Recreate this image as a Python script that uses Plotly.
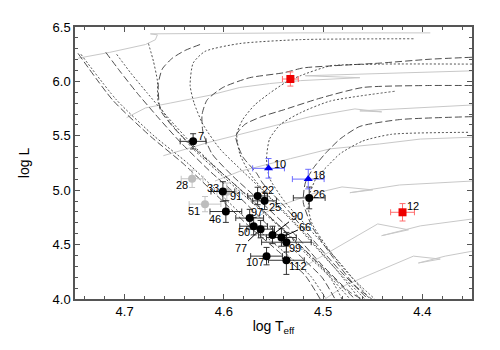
import plotly.graph_objects as go

# ---------------- data ----------------
# Evolutionary tracks (log Teff, log L)
# long-dashed tracks
dash_a_T = [4.747, 4.712, 4.674, 4.641, 4.607, 4.574, 4.543, 4.518, 4.503]
dash_a_L = [6.258, 5.828, 5.496, 5.245, 4.950, 4.663, 4.421, 4.215, 4.000]
dash_c_T = [4.719, 4.705, 4.688, 4.667, 4.644, 4.614, 4.584, 4.554, 4.523, 4.501, 4.488]
dash_c_L = [6.267, 6.097, 5.900, 5.676, 5.443, 5.174, 4.932, 4.663, 4.394, 4.197, 4.000]
dash_f_T = [4.624, 4.639, 4.652, 4.662, 4.666, 4.664, 4.649, 4.626, 4.594, 4.561, 4.527, 4.497, 4.468]
dash_f_L = [6.339, 6.285, 6.213, 6.115, 5.980, 5.738, 5.559, 5.353, 5.093, 4.815, 4.528, 4.260, 4.000]
dash_h_T = [4.350, 4.392, 4.443, 4.493, 4.520, 4.540, 4.574, 4.601, 4.617, 4.622, 4.621, 4.612, 4.592, 4.562, 4.531, 4.503, 4.473, 4.461]
dash_h_L = [6.222, 6.204, 6.168, 6.142, 6.124, 6.079, 6.034, 5.944, 5.828, 5.694, 5.532, 5.335, 5.138, 4.887, 4.618, 4.331, 4.063, 4.000]
dash_j_T = [4.350, 4.395, 4.460, 4.503, 4.540, 4.562, 4.579, 4.588, 4.581, 4.567, 4.561, 4.538, 4.513, 4.483, 4.455]
dash_j_L = [5.962, 5.962, 5.944, 5.846, 5.738, 5.676, 5.604, 5.496, 5.308, 5.156, 5.066, 4.842, 4.573, 4.260, 4.000]
dash_l_T = [4.350, 4.423, 4.463, 4.483, 4.498, 4.510, 4.518, 4.520, 4.511, 4.491, 4.468, 4.451]
dash_l_L = [5.676, 5.649, 5.586, 5.470, 5.335, 5.201, 5.066, 4.887, 4.663, 4.394, 4.125, 4.000]

# dotted tracks
dot_b_T = [4.744, 4.708, 4.670, 4.636, 4.602, 4.569, 4.538, 4.513, 4.497]
dot_b_L = [6.249, 5.828, 5.496, 5.245, 4.950, 4.663, 4.421, 4.215, 4.000]
dot_d_T = [4.708, 4.694, 4.677, 4.657, 4.634, 4.604, 4.574, 4.543, 4.515, 4.493, 4.481]
dot_d_L = [6.249, 6.079, 5.891, 5.676, 5.443, 5.174, 4.932, 4.663, 4.394, 4.197, 4.000]
dot_e_T = [4.676, 4.671, 4.667, 4.666, 4.654, 4.631, 4.599, 4.566, 4.533, 4.503, 4.473]
dot_e_L = [6.348, 6.186, 6.007, 5.801, 5.622, 5.380, 5.111, 4.842, 4.573, 4.304, 4.000]
dot_g_T = [4.409, 4.523, 4.584, 4.619, 4.631, 4.634, 4.630, 4.621, 4.604, 4.579, 4.548, 4.518, 4.490, 4.463]
dot_g_L = [6.392, 6.384, 6.348, 6.276, 6.168, 5.962, 5.801, 5.604, 5.380, 5.156, 4.887, 4.600, 4.304, 4.000]
dot_i_T = [4.350, 4.443, 4.493, 4.523, 4.538, 4.554, 4.569, 4.581, 4.587, 4.584, 4.574, 4.554, 4.523, 4.493, 4.458]
dot_i_L = [6.159, 6.159, 6.142, 6.052, 5.989, 5.891, 5.783, 5.649, 5.514, 5.335, 5.156, 4.932, 4.636, 4.331, 4.000]
dot_k_T = [4.428, 4.493, 4.523, 4.543, 4.554, 4.557, 4.554, 4.538, 4.513, 4.483, 4.453]
dot_k_L = [5.909, 5.819, 5.711, 5.604, 5.470, 5.290, 5.111, 4.887, 4.636, 4.331, 4.000]
dot_m_T = [4.354, 4.431, 4.460, 4.483, 4.495, 4.507, 4.513, 4.515, 4.511, 4.493, 4.473, 4.448]
dot_m_L = [5.532, 5.514, 5.452, 5.335, 5.227, 5.111, 4.977, 4.842, 4.690, 4.439, 4.215, 4.000]

# light grey solid tracks
grey_1_T = [4.747, 4.715, 4.679, 4.669, 4.667, 4.674, 4.523, 4.392]
grey_1_L = [6.213, 6.267, 6.339, 6.383, 6.428, 6.437, 6.446, 6.446]
grey_2_T = [4.698, 4.679, 4.654, 4.614, 4.584, 4.554, 4.523, 4.463, 4.518, 4.423, 4.350]
grey_2_L = [5.667, 5.756, 5.801, 5.873, 5.944, 5.980, 6.007, 6.034, 6.052, 6.079, 6.097]
grey_3_T = [4.661, 4.614, 4.564, 4.513, 4.468, 4.441, 4.463, 4.350]
grey_3_L = [5.317, 5.443, 5.559, 5.676, 5.747, 5.720, 5.729, 5.783]
grey_4_T = [4.609, 4.584, 4.533, 4.493, 4.443, 4.402, 4.350]
grey_4_L = [5.084, 5.174, 5.290, 5.380, 5.425, 5.470, 5.487]
grey_5_T = [4.574, 4.543, 4.510, 4.481, 4.450, 4.473, 4.423, 4.350]
grey_5_L = [4.726, 4.860, 4.968, 5.030, 5.003, 4.977, 5.048, 5.084]
grey_6_T = [4.523, 4.493, 4.463, 4.445, 4.414, 4.441, 4.402, 4.350]
grey_6_L = [4.278, 4.439, 4.600, 4.690, 4.636, 4.582, 4.672, 4.735]
grey_7_T = [4.498, 4.478, 4.460, 4.433, 4.409, 4.382, 4.404, 4.377, 4.350]
grey_7_L = [4.000, 4.125, 4.197, 4.304, 4.394, 4.367, 4.331, 4.394, 4.439]

# stars
black_names = ["7", "33", "46", "22", "25", "26", "97", "50", "77", "90", "66", "99", "107", "112"]
black_T = [4.631, 4.601, 4.598, 4.566, 4.559, 4.514, 4.574, 4.570, 4.563, 4.551, 4.542, 4.537, 4.557, 4.537]
black_L = [5.449, 4.988, 4.804, 4.947, 4.902, 4.929, 4.744, 4.669, 4.642, 4.589, 4.565, 4.522, 4.394, 4.356]
black_eT = [0.013, 0.012, 0.016, 0.010, 0.012, 0.016, 0.014, 0.014, 0.014, 0.014, 0.015, 0.025, 0.016, 0.018]
black_eL = [0.07, 0.09, 0.10, 0.08, 0.08, 0.10, 0.08, 0.08, 0.08, 0.08, 0.08, 0.09, 0.08, 0.13]

grey_names = ["28", "91", "51"]
grey_T = [4.632, 4.597, 4.619]
grey_L = [5.105, 4.986, 4.872]
grey_eT = [0.011, 0.010, 0.016]
grey_eL = [0.08, 0.08, 0.07]

blue_names = ["10", "18"]
blue_T = [4.555, 4.515]
blue_L = [5.201, 5.102]
blue_eT = [0.016, 0.016]
blue_eL = [0.09, 0.09]

red_names = ["", "12"]
red_T = [4.533, 4.420]
red_L = [6.022, 4.797]
red_eT = [0.008, 0.012]
red_eL = [0.065, 0.08]

# label offsets in pixels (dx, dy) for plain labels
label_offsets = {
    "7": (8, -5), "33": (-10, -4), "46": (-11, 7), "22": (10, -6), "25": (10, 6),
    "26": (10, -4), "97": (7, -6), "50": (-10, 6), "99": (9, 6), "107": (-12, 6),
    "112": (12, 6), "28": (-10, 6), "91": (9, 4), "51": (-11, 7), "10": (11, -4),
    "18": (11, -4), "12": (10, -6),
}
# labels with leader lines: (ax, ay) in pixels
leader_offsets = {"77": (-20, 19), "90": (24, -19), "66": (24, -11)}

# ---------------- figure ----------------
fig = go.Figure()

DARK = "#3a3a3a"
GREY = "#c8c8c8"

for T, L in [(grey_1_T, grey_1_L), (grey_2_T, grey_2_L), (grey_3_T, grey_3_L),
             (grey_4_T, grey_4_L), (grey_5_T, grey_5_L), (grey_6_T, grey_6_L),
             (grey_7_T, grey_7_L)]:
    fig.add_trace(go.Scatter(x=T, y=L, mode="lines", line=dict(color=GREY, width=1),
                             hoverinfo="skip", showlegend=False))

for T, L in [(dash_a_T, dash_a_L), (dash_c_T, dash_c_L), (dash_f_T, dash_f_L),
             (dash_h_T, dash_h_L), (dash_j_T, dash_j_L), (dash_l_T, dash_l_L)]:
    fig.add_trace(go.Scatter(x=T, y=L, mode="lines",
                             line=dict(color=DARK, width=0.9, dash="7px,3px", shape="spline", smoothing=0.6),
                             hoverinfo="skip", showlegend=False))

for T, L in [(dot_b_T, dot_b_L), (dot_d_T, dot_d_L), (dot_e_T, dot_e_L),
             (dot_g_T, dot_g_L), (dot_i_T, dot_i_L), (dot_k_T, dot_k_L),
             (dot_m_T, dot_m_L)]:
    fig.add_trace(go.Scatter(x=T, y=L, mode="lines",
                             line=dict(color=DARK, width=0.9, dash="2px,2px", shape="spline", smoothing=0.6),
                             hoverinfo="skip", showlegend=False))


def stars(T, L, eT, eL, color, ecolor, symbol, size):
    fig.add_trace(go.Scatter(
        x=T, y=L, mode="markers",
        marker=dict(color=color, symbol=symbol, size=size, line=dict(width=0)),
        error_x=dict(type="data", array=eT, color=ecolor, thickness=1, width=3),
        error_y=dict(type="data", array=eL, color=ecolor, thickness=1, width=3),
        showlegend=False))


stars(grey_T, grey_L, grey_eT, grey_eL, "#bdbdbd", "#c4c4c4", "circle", 8)
stars(black_T, black_L, black_eT, black_eL, "black", "#333333", "circle", 8)
stars(blue_T, blue_L, blue_eT, blue_eL, "#0000ee", "#6b6bff", "triangle-up", 8)
stars(red_T, red_L, red_eT, red_eL, "#ee0000", "#ff6b6b", "square", 8)

all_names = black_names + grey_names + blue_names + red_names
all_T = black_T + grey_T + blue_T + red_T
all_L = black_L + grey_L + blue_L + red_L
for n, t, l in zip(all_names, all_T, all_L):
    if not n:
        continue
    if n in leader_offsets:
        ax, ay = leader_offsets[n]
        fig.add_annotation(x=t, y=l, text=n, showarrow=True, arrowhead=0, arrowwidth=1,
                           arrowcolor="black", ax=ax, ay=ay, standoff=0,
                           font=dict(size=11, color="black"))
    else:
        dx, dy = label_offsets[n]
        fig.add_annotation(x=t, y=l, text=n, showarrow=False, xshift=dx, yshift=-dy,
                           font=dict(size=11, color="black"))

axis_common = dict(
    showgrid=False, zeroline=False, showline=True, linecolor="#555555", linewidth=1.5,
    mirror="ticks", ticks="inside", ticklen=5, tickcolor="#555555",
    tickfont=dict(size=13, color="black"),
)

fig.update_layout(
    width=500, height=350,
    margin=dict(l=67, r=36, t=12, b=59),
    paper_bgcolor="white", plot_bgcolor="white",
    font=dict(family="Liberation Sans, Arial, sans-serif", color="black"),
    xaxis=dict(range=[4.75, 4.35], tickvals=[4.7, 4.6, 4.5, 4.4], ticktext=["4.7", "4.6", "4.5", "4.4"],
               minor=dict(dtick=0.02, tick0=4.4, ticks="inside", ticklen=3, tickcolor="#555555"),
               title=dict(text="log T<sub>eff</sub>", font=dict(size=14), standoff=3),
               **axis_common),
    yaxis=dict(range=[4.0, 6.5], tickvals=[4.0, 4.5, 5.0, 5.5, 6.0, 6.5],
               ticktext=["4.0", "4.5", "5.0", "5.5", "6.0", "6.5"],
               minor=dict(dtick=0.1, tick0=4.0, ticks="inside", ticklen=3, tickcolor="#555555"),
               title=dict(text="log L", font=dict(size=14), standoff=20),
               **axis_common),
)

fig.write_html("out.html")
